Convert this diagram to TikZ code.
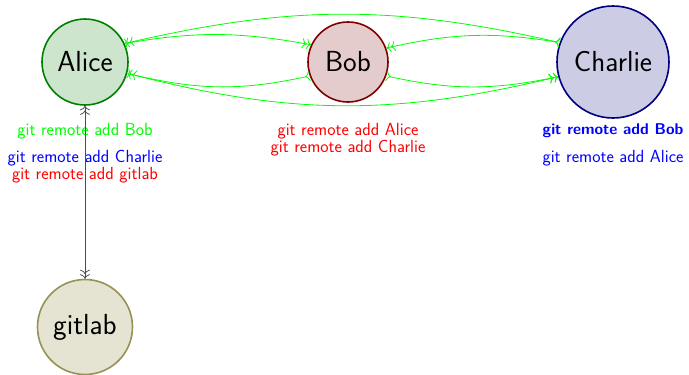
\documentclass[tikz,border=0pt]{standalone}
\usetikzlibrary{arrows.meta}
\definecolor{gitfill}{RGB}{229,228,210}
\definecolor{gitdraw}{RGB}{150,145,85}
\tikzset{
  >={To[length=4.5pt,width=10pt]},
  person/.style={circle, inner sep=0pt, line width=1.6pt, font=\fontsize{29}{30}\selectfont\sffamily},
  lbl/.style={font=\fontsize{17.6}{18}\selectfont\sffamily, inner sep=0pt, anchor=center},
  gedge/.style={draw=green, line width=0.8pt, >->>},
}
\begin{document}
\begin{tikzpicture}[x=1pt, y=-1pt]
\useasboundingbox (0,0) rectangle (689,375);
\node[person, minimum size=86pt, fill=green!50!black!20, draw=green!50!black] (alice) at (85,62) {Alice};
\node[person, minimum size=80pt, fill=red!50!black!20, draw=red!50!black] (bob) at (348,62) {Bob};
\node[person, minimum size=112pt, fill=blue!50!black!20, draw=blue!50!black] (charlie) at (613,62) {Charlie};
\node[person, minimum size=95pt, fill=gitfill, draw=gitdraw] (gitlab) at (85,327) {gitlab};

\node[lbl, text=green] (a1) at (85,131) {git remote add Bob};
\node[lbl, text=blue] (a2) at (85,158) {git remote add Charlie};
\node[lbl, text=red] (a3) at (85,175) {git remote add gitlab};
\node[lbl, text=red] (b1) at (348,131) {git remote add Alice};
\node[lbl, text=red] (b2) at (348,148) {git remote add Charlie};
\node[lbl, text=blue, font=\fontsize{15.6}{17}\selectfont\sffamily\bfseries] (c1) at (613,131) {git remote add Bob};
\node[lbl, text=blue] (c2) at (613,158) {git remote add Alice};

\draw[gedge] (alice.25) to[bend left=10] (bob.155);
\draw[gedge] (charlie.160) to[bend right=11] (bob.20);
\draw[gedge] (charlie.160) to[bend right=13] (alice.25);
\draw[gedge] (bob.200) to[bend left=13] (alice.-15);
\draw[gedge] (bob.-20) to[bend right=12] (charlie.-165);
\draw[gedge] (alice.-15) to[bend right=14] (charlie.-165);

\draw[black!70, line width=0.8pt, <<->>] (alice) -- (gitlab);
\end{tikzpicture}
\end{document}
